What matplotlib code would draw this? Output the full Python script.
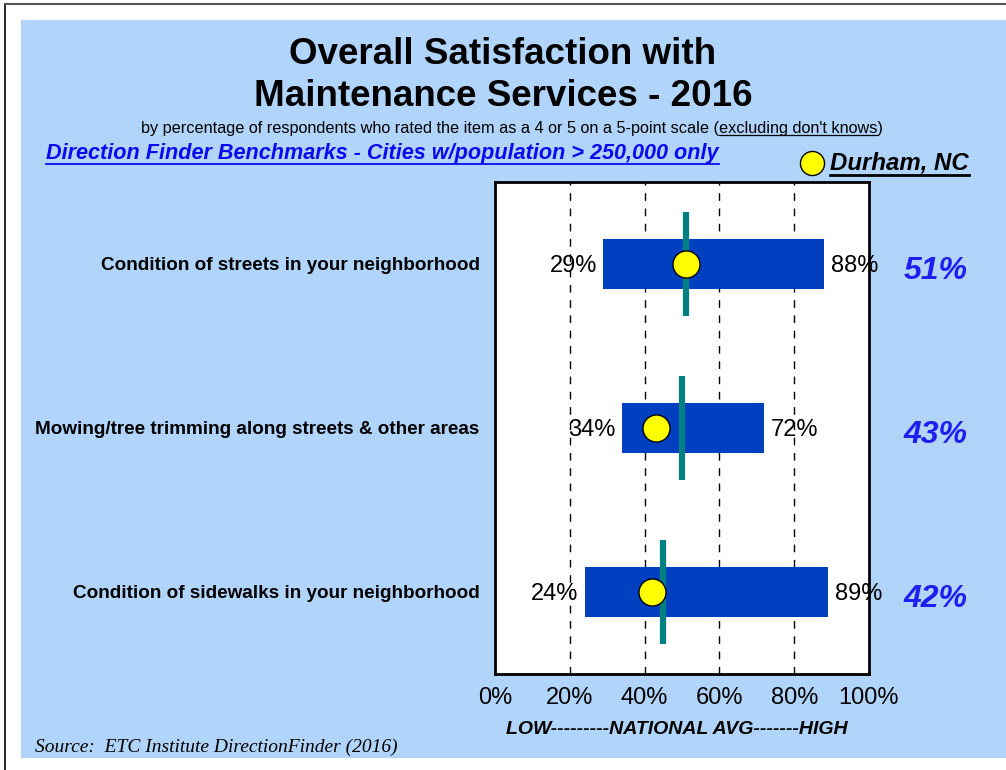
import matplotlib
matplotlib.use("Agg")
import matplotlib.pyplot as plt
from matplotlib.patches import Rectangle
from matplotlib.lines import Line2D

# ---- data -------------------------------------------------------------
categories = [
    "Condition of streets in your neighborhood",
    "Mowing/tree trimming along streets & other areas",
    "Condition of sidewalks in your neighborhood",
]
low_values = [29, 34, 24]          # lowest benchmark city
high_values = [88, 72, 89]         # highest benchmark city
national_avg = [51, 50, 45]        # national average marker
durham_values = [51, 43, 42]       # Durham, NC result
x_ticks = [0, 20, 40, 60, 80, 100]
x_tick_labels = ["0%", "20%", "40%", "60%", "80%", "100%"]

# ---- style ------------------------------------------------------------
W, H = 1006, 770
BG = "#B0D4FA"
BAR = "#0040C0"
TEAL = "#008080"
VALUE_BLUE = "#1E1EF0"
LINK_BLUE = "#0A0AF0"
SANS = ["Liberation Sans", "Arial", "DejaVu Sans"]
SERIF = ["Liberation Serif", "Times New Roman", "DejaVu Serif"]
plt.rcParams["font.family"] = SANS

fig = plt.figure(figsize=(W / 100, H / 100), dpi=100)
fig.patch.set_facecolor("white")

# light blue panel and outer frame
fig.add_artist(Rectangle((21 / W, 1 - 758 / H), (W - 21) / W, (758 - 20) / H,
                         transform=fig.transFigure, facecolor=BG,
                         edgecolor="none", zorder=0))
fig.add_artist(Line2D([5 / W, 5 / W], [0, 1 - 4 / H], transform=fig.transFigure,
                      color="black", lw=1.2))
fig.add_artist(Line2D([5 / W, 1], [1 - 4 / H, 1 - 4 / H], transform=fig.transFigure,
                      color="#555555", lw=1.5))

# ---- main axes --------------------------------------------------------
ax = fig.add_axes([495 / W, 1 - 674 / H, 374 / W, 492 / H])
ax.set_facecolor("white")
rows = [i + 0.5 for i in range(len(categories))]
ax.set_xlim(0, 100)
ax.set_ylim(len(categories), 0)
for s in ax.spines.values():
    s.set_linewidth(2)
    s.set_color("black")

for t in x_ticks[1:-1]:
    ax.axvline(t, color="black", lw=1, linestyle=(0, (5.5, 5.5)), zorder=1)

widths = [h - l for l, h in zip(low_values, high_values)]
ax.barh(rows, widths, left=low_values, height=0.305, color=BAR, zorder=2)

for y, n in zip(rows, national_avg):
    ax.plot([n, n], [y - 0.317, y + 0.317], color=TEAL, lw=4.5,
            solid_capstyle="butt", zorder=3)

ax.scatter(durham_values, rows, s=380, color="#FFFF00", edgecolor="black",
           linewidth=1, zorder=4)

for y, lo, hi in zip(rows, low_values, high_values):
    ax.annotate(f"{lo}%", xy=(lo, y), xytext=(-4.5, -1.5), textcoords="offset points",
                ha="right", va="center", fontsize=17, zorder=5)
    ax.annotate(f"{hi}%", xy=(hi, y), xytext=(5, -1.5), textcoords="offset points",
                ha="left", va="center", fontsize=17, zorder=5)

for y, d in zip(rows, durham_values):
    ax.annotate(f"{d}%", xy=(968 / W, y), xycoords=(fig.transFigure, ax.transData),
                xytext=(0, -5), textcoords="offset points", ha="right", va="center",
                fontsize=23, fontweight="bold", fontstyle="italic", color=VALUE_BLUE,
                annotation_clip=False)

ax.set_xticks(x_ticks)
ax.set_xticklabels(x_tick_labels, fontsize=17)
ax.set_yticks(rows)
ax.set_yticklabels(categories, fontsize=13.6, fontweight="bold")
ax.tick_params(axis="both", length=0)
ax.tick_params(axis="x", pad=9)
ax.tick_params(axis="y", pad=11)

# ---- titles and notes -------------------------------------------------
fig.text(503 / W, 1 - 54 / H, "Overall Satisfaction with", ha="center", va="center",
         fontsize=26.5, fontweight="bold")
fig.text(503 / W, 1 - 97 / H, "Maintenance Services - 2016", ha="center", va="center",
         fontsize=26.5, fontweight="bold")

SUB_FS = 11.7
sub_pre = "by percentage of respondents who rated the item as a 4 or 5 on a 5-point scale ("
sub_ul = "excluding don't knows"
sub_full = sub_pre + sub_ul + ")"
sub = fig.text(512 / W, 1 - 128 / H, sub_full, ha="center", va="center", fontsize=SUB_FS)

bench = fig.text(46 / W, 1 - 153 / H,
                 "Direction Finder Benchmarks - Cities w/population > 250,000 only",
                 ha="left", va="center", fontsize=15.6, fontweight="bold",
                 fontstyle="italic", color=LINK_BLUE)

ax.scatter([812 / W], [1 - 163 / H], s=300, color="#FFFF00", edgecolor="black",
           linewidth=1, transform=fig.transFigure, clip_on=False, zorder=6)
durham = fig.text(830 / W, 1 - 163 / H, "Durham, NC", ha="left", va="center",
                  fontsize=17.3, fontweight="bold", fontstyle="italic")

fig.text(677 / W, 1 - 730 / H, "LOW---------NATIONAL AVG-------HIGH", ha="center",
         va="center", fontsize=14, fontweight="bold", fontstyle="italic")
fig.text(35 / W, 1 - 747 / H, "Source:  ETC Institute DirectionFinder (2016)",
         ha="left", va="center", fontsize=14, fontstyle="italic", family=SERIF)

# ---- underlines -------------------------------------------------------
fig.canvas.draw()
renderer = fig.canvas.get_renderer()


def hline_px(x0, x1, y_top, color, lw):
    fig.add_artist(Line2D([x0 / W, x1 / W], [1 - y_top / H, 1 - y_top / H],
                          transform=fig.transFigure, color=color, lw=lw))


# subtitle: underline only the parenthetical phrase
bb = sub.get_window_extent(renderer)
probe = fig.text(0, 0, sub_pre, fontsize=SUB_FS)
w_pre = probe.get_window_extent(renderer).width
probe.set_text(sub_ul)
w_ul = probe.get_window_extent(renderer).width
probe.remove()
hline_px(bb.x0 + w_pre, bb.x0 + w_pre + w_ul, 135, "black", 0.9)

bb = bench.get_window_extent(renderer)
hline_px(bb.x0, bb.x1, 163.5, LINK_BLUE, 1.3)

bb = durham.get_window_extent(renderer)
hline_px(bb.x0, bb.x1, 174.5, "black", 2)

fig.savefig("out.png", dpi=100, facecolor=fig.get_facecolor())
